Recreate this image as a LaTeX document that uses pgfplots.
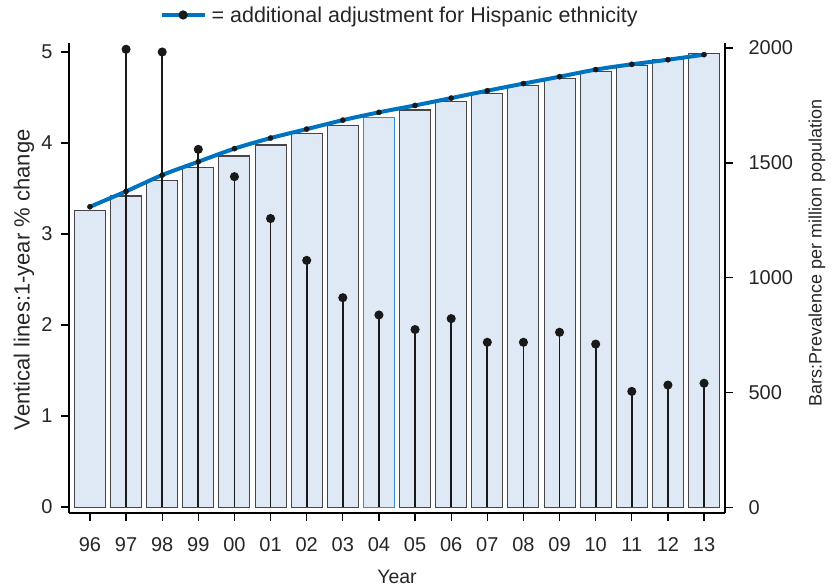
\documentclass[border=0pt]{standalone}
\usepackage{fontspec}
\setmainfont{Liberation Sans}
\usepackage{pgfplots}
\usepackage{pgfplotstable}
\pgfplotsset{compat=1.18}
\definecolor{barfill}{RGB}{223,233,245}
\definecolor{hispblue}{RGB}{0,115,192}
\definecolor{baredge}{RGB}{70,70,70}

% year index, prevalence per million (bars)
\pgfplotstableread{
x prev
0 1292
1 1356
2 1424
3 1481
4 1530
5 1578
6 1626
7 1662
9 1730
10 1769
11 1803
12 1835
13 1868
14 1898
15 1925
16 1949
17 1977
}\bars
\pgfplotstableread{
x prev
8 1697
}\barhl
% adjusted for Hispanic ethnicity (line)
\pgfplotstableread{
x adj
0 1309
1 1376
2 1447
3 1505
4 1562
5 1608
6 1647
7 1686
8 1720
9 1750
10 1782
11 1814
12 1845
13 1875
14 1906
15 1929
16 1949
17 1971
}\hisp
% 1-year % change (vertical lines)
\pgfplotstableread{
x chg
1 5.03
2 5.00
3 3.93
4 3.63
5 3.17
6 2.71
7 2.30
8 2.11
9 1.95
10 2.07
11 1.81
12 1.81
13 1.92
14 1.79
15 1.27
16 1.34
17 1.36
}\change

\newcommand{\fs}{\fontsize{20}{24}\selectfont}

\begin{document}
\begin{tikzpicture}[x=1pt,y=1pt]
\useasboundingbox (0,0) rectangle (833,588);
% right axis: bars and line
\begin{axis}[
  at={(69pt,75pt)}, anchor=south west,
  scale only axis, width=656pt, height=470pt,
  xmin=-0.58, xmax=17.58,
  ymin=-23.9, ymax=2021.8,
  axis x line=none,
  axis y line*=right,
  axis line style={-, line width=1.3pt, black},
  ytick={0,500,1000,1500,2000},
  tick align=outside,
  major tick length=8pt,
  tick style={line width=1.3pt, black},
  /pgf/number format/assume math mode=true,
  /pgf/number format/1000 sep={},
  yticklabel style={font=\fs, text=black!85, xshift=12pt},
  ylabel={Bars:Prevalence per million population},
  ylabel style={font=\fontsize{18}{22}\selectfont, text=black!85, at={(axis description cs:1.140,0.554)}, anchor=center},
  ybar, bar width=31pt, bar shift=0pt,
  legend style={at={(axis description cs:0.504,1.0596)}, anchor=center, draw=none, fill=none, font=\fontsize{21.5}{25}\selectfont, text=black!85, inner sep=0pt, column sep=3pt},
  legend cell align=left,
]
\addplot[ybar, fill=barfill, draw=baredge, line width=1.1pt, forget plot] table[x=x,y=prev] {\bars};
\addplot[ybar, fill=barfill, draw=hispblue!80, line width=1.0pt, forget plot] table[x=x,y=prev] {\barhl};
\addplot[sharp plot, smooth, hispblue, line width=4pt,
  legend image code/.code={\draw[hispblue, line width=4pt] (0pt,0pt) -- (43pt,0pt); \fill[black!90] (21.5pt,0pt) circle (2.5pt);}]
  table[x=x,y=adj] {\hisp};
\addlegendentry{= additional adjustment for Hispanic ethnicity}
\addplot[only marks, mark=*, mark size=2.6pt, black!90, forget plot] table[x=x,y=adj] {\hisp};
\end{axis}
% left axis: vertical lines
\begin{axis}[
  at={(69pt,75pt)}, anchor=south west,
  scale only axis, width=656pt, height=470pt,
  xmin=-0.58, xmax=17.58,
  ymin=-0.066, ymax=5.099,
  axis x line*=bottom,
  axis y line*=left,
  axis line style={-, line width=1.3pt, black},
  xtick={0,...,17},
  xticklabels={96,97,98,99,00,01,02,03,04,05,06,07,08,09,10,11,12,13},
  ytick={0,1,2,3,4,5},
  tick align=outside,
  major tick length=8pt,
  tick style={line width=1.3pt, black},
  /pgf/number format/assume math mode=true,
  yticklabel style={font=\fs, text=black!85, xshift=-5pt},
  xticklabel style={font=\fs, text=black!85, yshift=-13pt},
  xlabel={Year},
  xlabel style={font=\fontsize{19.5}{23}\selectfont, text=black!85, at={(axis description cs:0.5,-0.136)}, anchor=center},
  ylabel={Ventical lines:1-year \% change},
  ylabel style={font=\fontsize{22}{26}\selectfont, text=black!85, at={(axis description cs:-0.0686,0.496)}, anchor=center},
]
\addplot[ycomb, black!90, line width=1.8pt, mark=*, mark size=3.6pt, mark options={solid}] table[x=x,y=chg] {\change};
\end{axis}
\end{tikzpicture}
\end{document}
